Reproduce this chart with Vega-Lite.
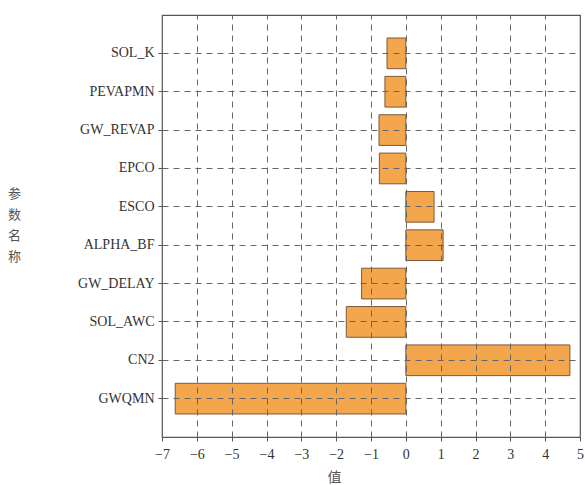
{
  "$schema": "https://vega.github.io/schema/vega-lite/v6.json",
  "autosize": {"type": "none"},
  "padding": {"left": 162, "top": 15, "right": 5, "bottom": 48},
  "width": 418,
  "height": 422,
  "background": "white",
  "config": {
    "font": "Liberation Serif",
    "view": {"stroke": "#555555", "strokeWidth": 1.2}
  },
  "data": {
    "values": [
      {"param": "SOL_K", "value": -0.54},
      {"param": "PEVAPMN", "value": -0.6},
      {"param": "GW_REVAP", "value": -0.77},
      {"param": "EPCO", "value": -0.76},
      {"param": "ESCO", "value": 0.81},
      {"param": "ALPHA_BF", "value": 1.07},
      {"param": "GW_DELAY", "value": -1.27},
      {"param": "SOL_AWC", "value": -1.71},
      {"param": "CN2", "value": 4.71},
      {"param": "GWQMN", "value": -6.62}
    ]
  },
  "mark": {"type": "bar", "fill": "#F4A64C", "stroke": "#7A5A3A", "strokeWidth": 1},
  "encoding": {
    "y": {
      "field": "param",
      "type": "nominal",
      "sort": null,
      "scale": {"paddingInner": 0.2, "paddingOuter": 0.6},
      "axis": {
        "title": ["参", "数", "名", "称"],
        "titleFont": "Noto Sans CJK SC",
        "titleFontSize": 13,
        "titleFontWeight": "normal",
        "titleColor": "#555555",
        "titleAngle": 0,
        "titleX": -148,
        "titleY": 172,
        "titleBaseline": "top",
        "titleLineHeight": 21,
        "labelFontSize": 14,
        "labelColor": "#333333",
        "labelPadding": 4,
        "domain": false,
        "ticks": true,
        "tickSize": 4,
        "tickColor": "#555555",
        "grid": true,
        "gridDash": [6, 5],
        "gridColor": "#666666",
        "gridWidth": 1,
        "zindex": 1
      }
    },
    "x": {
      "field": "value",
      "type": "quantitative",
      "scale": {"domain": [-7, 5], "nice": false},
      "axis": {
        "values": [-7, -6, -5, -4, -3, -2, -1, 0, 1, 2, 3, 4, 5],
        "title": "值",
        "titleFont": "Noto Sans CJK SC",
        "titleFontSize": 14,
        "titleFontWeight": "normal",
        "titleColor": "#555555",
        "titleX": 172,
        "titlePadding": 9,
        "labelFontSize": 14,
        "labelColor": "#333333",
        "labelPadding": 6,
        "labelFlush": false,
        "domain": false,
        "ticks": true,
        "tickSize": 4,
        "tickColor": "#555555",
        "grid": true,
        "gridDash": [6, 5],
        "gridColor": "#666666",
        "gridWidth": 1,
        "zindex": 1
      }
    }
  }
}
